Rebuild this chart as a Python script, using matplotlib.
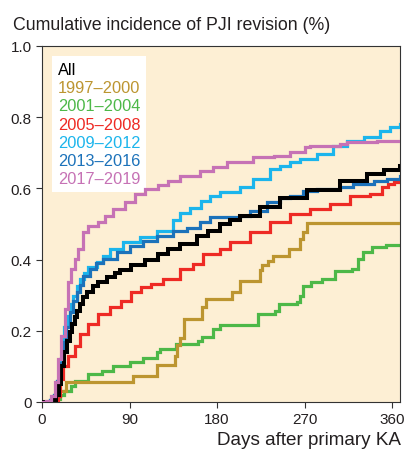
import matplotlib
matplotlib.use("Agg")
import matplotlib.pyplot as plt

plt.rcParams['font.family'] = ['Liberation Sans', 'DejaVu Sans']

# data: cumulative incidence step curves (day, value)
all_days = [0, 10, 14, 17, 19.9, 23, 26, 28.5, 31, 33.6, 36, 38.8, 42, 46, 52.5, 58, 66.5, 74.8, 80,
            91.9, 105.6, 119.3, 129.6, 142, 159, 171, 183, 193.4, 203.7, 224, 244.8, 272, 306.5, 334,
            352, 368]
all_vals = [0, 0.005, 0.02, 0.05, 0.1, 0.14, 0.17, 0.196, 0.22, 0.238, 0.255, 0.275, 0.295, 0.31, 0.325,
            0.336, 0.352, 0.362, 0.372, 0.384, 0.399, 0.416, 0.43, 0.444, 0.465, 0.48, 0.5, 0.51, 0.523,
            0.547, 0.572, 0.595, 0.62, 0.64, 0.652, 0.662]

p1997_days = [0, 14.5, 18, 25, 94, 118, 137, 139, 142, 146, 164, 169, 195, 204, 224, 226, 232, 237.6,
              254, 265, 268.5, 272, 368]
p1997_vals = [0, 0.018, 0.032, 0.055, 0.074, 0.105, 0.13, 0.16, 0.18, 0.233, 0.268, 0.29, 0.31, 0.34,
              0.37, 0.385, 0.397, 0.411, 0.43, 0.458, 0.478, 0.503, 0.503]

p2001_days = [0, 14, 19, 23, 30, 34, 47, 62, 73, 90, 104, 118, 121, 138, 160, 164, 176, 183, 222, 239,
              244, 262, 265, 268, 277, 288, 301, 319, 325, 330, 339, 354, 368]
p2001_vals = [0, 0.008, 0.02, 0.032, 0.045, 0.06, 0.079, 0.088, 0.102, 0.112, 0.124, 0.14, 0.15, 0.163,
              0.17, 0.183, 0.205, 0.216, 0.247, 0.256, 0.275, 0.28, 0.299, 0.327, 0.336, 0.345, 0.369,
              0.374, 0.402, 0.42, 0.435, 0.441, 0.441]

p2005_days = [0, 15, 16.5, 18, 21.6, 26.7, 33.6, 38.8, 47.3, 57.6, 69.6, 81.3, 91.5, 101.8, 112, 124.5,
              142, 155, 165.6, 183, 193.4, 214, 234.5, 255, 275.7, 296, 316.8, 337.4, 349.4, 356, 362, 368]
p2005_vals = [0, 0.005, 0.018, 0.065, 0.1, 0.13, 0.158, 0.19, 0.219, 0.247, 0.266, 0.285, 0.308, 0.322,
              0.331, 0.345, 0.374, 0.388, 0.416, 0.43, 0.449, 0.477, 0.505, 0.528, 0.542, 0.556, 0.58,
              0.584, 0.603, 0.612, 0.617, 0.617]

p2009_days = [0, 8, 12, 15, 18, 20.3, 23, 25.4, 29, 32.2, 36, 39, 43, 47.6, 56.3, 63, 70, 83.6, 100.8,
              118, 135, 142, 152, 163, 172.8, 183, 203.7, 217.4, 234.5, 244.8, 255, 265.4, 282.5, 299.6,
              313.4, 330.5, 347.7, 358, 368]
p2009_vals = [0, 0.005, 0.02, 0.06, 0.12, 0.16, 0.21, 0.242, 0.275, 0.299, 0.325, 0.345, 0.362, 0.378,
              0.392, 0.41, 0.43, 0.449, 0.463, 0.481, 0.51, 0.53, 0.545, 0.565, 0.58, 0.589, 0.603, 0.626,
              0.654, 0.664, 0.673, 0.683, 0.697, 0.72, 0.734, 0.744, 0.762, 0.772, 0.781]

p2013_days = [0, 8, 12, 15, 18, 22, 25, 28.8, 32, 35.7, 39, 42.5, 49.4, 56, 63, 76.8, 90.5, 104.2, 118,
              135, 148.8, 162.5, 172.8, 203.7, 214, 231, 244.8, 255, 268.8, 282.5, 306.5, 320, 340.8,
              354.6, 368]
p2013_vals = [0, 0.005, 0.02, 0.06, 0.11, 0.168, 0.21, 0.252, 0.285, 0.308, 0.33, 0.355, 0.374, 0.39,
              0.402, 0.42, 0.439, 0.453, 0.467, 0.481, 0.49, 0.505, 0.519, 0.523, 0.537, 0.561, 0.572,
              0.58, 0.594, 0.598, 0.603, 0.612, 0.622, 0.626, 0.636]

p2017_days = [0, 4.5, 9.6, 13, 16.5, 19.9, 23.3, 26.7, 30.2, 33.6, 37, 42.2, 47.3, 57.6, 64.5, 73, 85,
              95.3, 105.6, 119.3, 129.6, 142, 162.5, 176.2, 190, 217.4, 238, 255, 270.5, 275.7, 306.5,
              313.4, 344.3, 368]
p2017_vals = [0, 0.004, 0.018, 0.055, 0.12, 0.186, 0.261, 0.336, 0.374, 0.402, 0.43, 0.477, 0.495,
              0.505, 0.523, 0.542, 0.561, 0.584, 0.598, 0.61, 0.622, 0.636, 0.65, 0.659, 0.673, 0.687,
              0.692, 0.701, 0.716, 0.72, 0.725, 0.729, 0.734, 0.734]

labels = ["All", "1997\u20132000", "2001\u20132004", "2005\u20132008",
          "2009\u20132012", "2013\u20132016", "2017\u20132019"]
colors = ["#000000", "#BC9530", "#4DB848", "#EE2A24", "#1CB5EC", "#1C72BA", "#C672B5"]

series = [(all_days, all_vals), (p1997_days, p1997_vals), (p2001_days, p2001_vals),
          (p2005_days, p2005_vals), (p2009_days, p2009_vals), (p2013_days, p2013_vals),
          (p2017_days, p2017_vals)]
zorders = [6, 3, 2, 4, 5, 5.5, 7]

fig = plt.figure(figsize=(4.05, 4.52), dpi=100)
ax = fig.add_axes([42 / 405, 1 - 403 / 452, 358 / 405, 356 / 452])
ax.set_facecolor("#FDEFD4")

lines = []
for (d, v), c, lab, z in zip(series, colors, labels, zorders):
    ln, = ax.plot(d, v, drawstyle="steps-post", color=c, lw=2.9 if lab == "All" else 2.3,
                  label=lab, zorder=z, solid_joinstyle="miter")
    lines.append(ln)

ax.set_xlim(0, 368)
ax.set_ylim(0, 1.0)
ax.set_xticks([0, 90, 180, 270, 360])
ax.set_yticks([0, 0.2, 0.4, 0.6, 0.8, 1.0])
ax.set_yticklabels(["0", "0.2", "0.4", "0.6", "0.8", "1.0"])
ax.tick_params(direction="out", length=4, width=0.8, colors="#333333", labelsize=11,
               labelcolor="#231F20")
for s in ax.spines.values():
    s.set_color("#333333")
    s.set_linewidth(0.8)

leg = ax.legend(handles=lines, loc="upper left", bbox_to_anchor=(0.028, 0.972), borderaxespad=0,
                handlelength=0, handletextpad=0, labelcolor="linecolor", fontsize=11.8,
                frameon=True, fancybox=False, framealpha=1, borderpad=0.35, labelspacing=0.2)
leg.get_frame().set_facecolor("white")
leg.get_frame().set_edgecolor("none")
for h in leg.legend_handles:
    h.set_visible(False)

fig.text(13 / 405, 1 - 25 / 452, "Cumulative incidence of PJI revision (%)", fontsize=12.8,
         color="#231F20", ha="left", va="center")
fig.text(401 / 405, 1 - 441 / 452, "Days after primary KA", fontsize=13.6,
         color="#231F20", ha="right", va="center")

fig.savefig("out.png", dpi=100)
